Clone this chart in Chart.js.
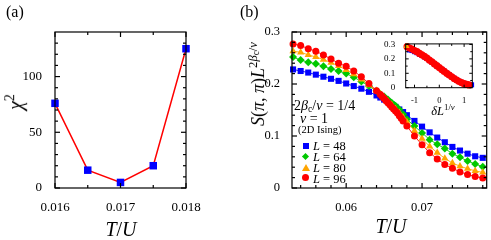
<!DOCTYPE html>
<html><head><meta charset="utf-8">
<script src="https://cdn.jsdelivr.net/npm/chart.js@4.4.0/dist/chart.umd.min.js"></script>
<style>
body{margin:0;width:491px;height:240px;background:#fff;position:relative;overflow:hidden;font-family:"Liberation Serif",serif;color:#000;}
canvas{position:absolute;}
.t{position:absolute;white-space:nowrap;line-height:1;}
.c{transform:translate(-50%,-50%);}
.r{transform:translate(-50%,-50%) rotate(-90deg);}
i{font-style:italic;}
.sup{font-size:0.7em;vertical-align:0.55em;}
.sub{font-size:0.7em;vertical-align:-0.25em;}
.mk{position:absolute;}
</style></head><body>
<canvas id="ca" width="240" height="240" style="left:0;top:0"></canvas>
<canvas id="cb" width="251" height="240" style="left:240px;top:0"></canvas>
<canvas id="ci" width="100" height="74" style="left:380px;top:36px"></canvas>

<div class="t" style="left:6px;top:4px;font-size:16px">(a)</div>
<div class="t" style="left:240px;top:4px;font-size:16px">(b)</div>
<div class="t r" style="left:14px;top:102px;font-size:20px"><i>χ</i><span class="sup">2</span></div>
<div class="t c" style="left:121px;top:229px;font-size:20px"><i>T</i>/<i>U</i></div>
<div class="t c" style="left:391px;top:226px;font-size:20px"><i>T</i>/<i>U</i></div>
<div class="t r" style="left:257px;top:84px;font-size:18px"><i>S</i>(<i>π</i>, <i>π</i>)<i>L</i><span class="sup">2<i>β</i><span style="font-size:0.75em;vertical-align:-0.2em">c</span>/<i>ν</i></span></div>
<div class="t c" style="left:443px;top:110px;font-size:12.5px"><i>δL</i><span class="sup">1/<i>ν</i></span></div>

<div class="t" style="left:294px;top:99px;font-size:14px">2<i>β</i><span class="sub">c</span>/<i>ν</i> = 1/4</div>
<div class="t" style="left:300px;top:112px;font-size:14px"><i>ν</i> = 1</div>
<div class="t" style="left:298px;top:125px;font-size:10.5px">(2D Ising)</div>

<div class="mk" style="left:303px;top:143px;width:6px;height:6px;background:#0000ff"></div>
<div class="mk" style="left:303px;top:154px;width:5px;height:5px;background:#00c800;transform:rotate(45deg)"></div>
<div class="mk" style="left:302px;top:164px;width:0;height:0;border-left:4px solid transparent;border-right:4px solid transparent;border-bottom:7px solid #ffa500"></div>
<div class="mk" style="left:302px;top:174px;width:7px;height:7px;border-radius:50%;background:#ff0000"></div>
<div class="t" style="left:313px;top:140px;font-size:12.5px"><i>L</i> = 48</div>
<div class="t" style="left:313px;top:151px;font-size:12.5px"><i>L</i> = 64</div>
<div class="t" style="left:313px;top:162px;font-size:12.5px"><i>L</i> = 80</div>
<div class="t" style="left:313px;top:173px;font-size:12.5px"><i>L</i> = 96</div>

<script>
// ---------- Panel (a) data ----------
const tA = [0.016, 0.0165, 0.017, 0.0175, 0.018];
const chi2 = [76, 16, 5, 20, 125];
const xMajorA = [0.016, 0.017, 0.018];
const xMinorA = [0.0165, 0.0175];
const yMajorA = [0, 50, 100];
const yMinorA = [10, 20, 30, 40, 60, 70, 80, 90, 110, 120, 130];

// ---------- Panel (b) data ----------
const tB = [0.053,0.054,0.055,0.056,0.057,0.058,0.059,0.060,0.061,0.062,0.063,0.064,0.065,
            0.066,0.067,0.068,0.069,0.070,0.071,0.072,0.073,0.074,0.075,0.076,0.077,0.078];
const sL48 = [0.228,0.225,0.222,0.218,0.214,0.210,0.206,0.201,0.196,0.191,0.185,0.178,0.170,
              0.161,0.151,0.140,0.129,0.118,0.107,0.097,0.088,0.079,0.072,0.066,0.061,0.058];
const sL64 = [0.252,0.246,0.242,0.239,0.234,0.229,0.225,0.220,0.213,0.205,0.196,0.187,0.176,
              0.164,0.151,0.132,0.119,0.106,0.093,0.084,0.076,0.066,0.059,0.052,0.046,0.041];
const sL80 = [0.263,0.261,0.256,0.252,0.247,0.241,0.235,0.227,0.219,0.209,0.198,0.187,0.174,
              0.160,0.145,0.127,0.110,0.095,0.080,0.068,0.057,0.048,0.042,0.037,0.033,0.030];
const sL96 = [0.277,0.274,0.268,0.263,0.256,0.248,0.240,0.234,0.225,0.214,0.201,0.187,0.172,
              0.156,0.139,0.119,0.100,0.083,0.068,0.056,0.045,0.038,0.031,0.026,0.022,0.019];
// extra samples near the crossing
const tExtra = [0.0645, 0.0655, 0.0665, 0.0675];
const sL48x = [0.174, 0.166, 0.156, 0.146];
const sL64x = [0.181, 0.170, 0.158, 0.142];
const sL80x = [0.181, 0.167, 0.152, 0.136];
const sL96x = [0.180, 0.164, 0.148, 0.129];
const tExtraRed = [0.06475, 0.06525, 0.06575, 0.06625, 0.06675, 0.06725];
const sL96xx = [0.176, 0.168, 0.160, 0.152, 0.144, 0.134];

const xMajorB = [0.06, 0.07];
const xMinorB = [0.054,0.056,0.058,0.062,0.064,0.066,0.068,0.072,0.074,0.076,0.078];
const yMajorB = [0, 0.1, 0.2, 0.3];
const yMinorB = [0.02,0.04,0.06,0.08,0.12,0.14,0.16,0.18,0.22,0.24,0.26,0.28];

// ---------- Inset data ----------
const dInset = [-1.3,-1.2,-1.1,-1.0,-0.9,-0.8,-0.7,-0.6,-0.5,-0.4,-0.3,-0.2,-0.1,0,
                0.1,0.2,0.3,0.4,0.5,0.6,0.7,0.8,0.9,1.0,1.1,1.2,1.3];
const inBlue = [null,0.262,0.258,0.250,0.243,0.233,0.224,0.214,0.203,0.190,0.178,0.165,0.152,0.140,
                0.127,0.114,0.101,0.089,0.077,0.065,0.054,0.044,0.036,0.030,0.025,0.022,0.020];
const inRed  = [0.285,0.275,0.268,0.258,0.250,0.238,0.228,0.218,0.206,0.192,0.180,0.166,0.153,0.140,
                0.126,0.113,0.100,0.088,0.076,0.064,0.053,0.043,0.035,0.028,0.023,0.019,null];
const xMajorI = [-1, 0, 1];
const xMinorI = [-0.5, 0.5];
const yMajorI = [0, 0.1, 0.2, 0.3];
const yMinorI = [0.05, 0.15, 0.25];

function pts(xs, ys){ const o=[]; xs.forEach((x,i)=>{ if(ys[i]!==null) o.push({x:x,y:ys[i]}); }); return o; }
function merged(lists){ let o=[]; lists.forEach(l=>{ o=o.concat(pts(l[0],l[1])); }); return o.sort((a,b)=>a.x-b.x); }

function framePlugin(cfg){
  return {
    id:'frame',
    beforeDatasetsDraw(chart){
      if(!cfg.fill) return;
      const a=chart.chartArea, ctx=chart.ctx;
      ctx.save(); ctx.fillStyle='#fff'; ctx.fillRect(a.left,a.top,a.right-a.left,a.bottom-a.top); ctx.restore();
    },
    afterDraw(chart){
      const ctx=chart.ctx, a=chart.chartArea, xs=chart.scales.x, ys=chart.scales.y;
      ctx.save();
      ctx.strokeStyle='#000'; ctx.lineWidth=cfg.lw;
      const seg=(x1,y1,x2,y2)=>{ctx.beginPath();ctx.moveTo(x1,y1);ctx.lineTo(x2,y2);ctx.stroke();};
      const xt=(vals,L)=>vals.forEach(v=>{const p=xs.getPixelForValue(v); seg(p,a.bottom,p,a.bottom-L); seg(p,a.top,p,a.top+L);});
      const yt=(vals,L)=>vals.forEach(v=>{const p=ys.getPixelForValue(v); seg(a.left,p,a.left+L,p); seg(a.right,p,a.right-L,p);});
      xt(cfg.xMaj,cfg.maj); xt(cfg.xMin,cfg.min); yt(cfg.yMaj,cfg.maj); yt(cfg.yMin,cfg.min);
      ctx.strokeRect(a.left,a.top,a.right-a.left,a.bottom-a.top);
      ctx.restore();
    }
  };
}

const FONT='Liberation Serif';
function scaleX(min,max,majors,fmt,size,pad,h){
  return {type:'linear',min:min,max:max,grid:{display:false},border:{display:false},
    afterBuildTicks:s=>{s.ticks=majors.map(v=>({value:v}));},
    afterFit:s=>{s.height=h;},
    ticks:{color:'#000',font:{family:FONT,size:size},padding:pad,minRotation:0,maxRotation:0,autoSkip:false,callback:fmt}};
}
function scaleY(min,max,majors,fmt,size,pad,w){
  return {type:'linear',min:min,max:max,grid:{display:false},border:{display:false},
    afterBuildTicks:s=>{s.ticks=majors.map(v=>({value:v}));},
    afterFit:s=>{s.width=w;},
    ticks:{color:'#000',font:{family:FONT,size:size},padding:pad,autoSkip:false,callback:fmt}};
}
const common={responsive:false,animation:false,devicePixelRatio:1,
  plugins:{legend:{display:false},tooltip:{enabled:false}}};

// Panel (a)
new Chart(document.getElementById('ca'),{
  type:'line',
  data:{datasets:[{data:pts(tA,chi2),borderColor:'#ff0000',borderWidth:1.5,
    pointStyle:'rect',pointRadius:5.3,pointBackgroundColor:'#0000ff',pointBorderWidth:0,clip:false,tension:0}]},
  options:Object.assign({},common,{
    layout:{padding:{left:0,top:32,right:54,bottom:0}},
    scales:{
      x:scaleX(0.016,0.018,xMajorA,v=>v.toFixed(3),13,4,52),
      y:scaleY(0,140,yMajorA,v=>String(v),13,5,55)
    }}),
  plugins:[framePlugin({lw:1.2,maj:5,min:3,xMaj:xMajorA,xMin:xMinorA,yMaj:yMajorA,yMin:yMinorA})]
});

// Panel (b)
function ds(data,color,style,r,order){
  return {data:data,borderColor:color,borderWidth:0.9,pointStyle:style,pointRadius:r,
    pointBackgroundColor:color,pointBorderWidth:0,clip:false,tension:0,order:order};
}
new Chart(document.getElementById('cb'),{
  type:'line',
  data:{datasets:[
    ds(merged([[tB,sL48],[tExtra,sL48x]]),'#0000ff','rect',4.3,4),
    ds(merged([[tB,sL64],[tExtra,sL64x]]),'#00c800','rectRot',4,3),
    ds(merged([[tB,sL80],[tExtra,sL80x]]),'#ffa500','triangle',4.2,2),
    ds(merged([[tB,sL96],[tExtra,sL96x],[tExtraRed,sL96xx]]),'#ff0000','circle',3.5,1)
  ]},
  options:Object.assign({},common,{
    layout:{padding:{left:0,top:32,right:2,bottom:0}},
    scales:{
      x:scaleX(0.05286,0.07852,xMajorB,v=>v.toFixed(2),12.5,4.5,52),
      y:scaleY(0,0.3,yMajorB,v=>v===0?'0':v.toFixed(1),12.5,4,52)
    }}),
  plugins:[framePlugin({lw:1.2,maj:5,min:3,xMaj:xMajorB,xMin:xMinorB,yMaj:yMajorB,yMin:yMinorB})]
});

// Inset
new Chart(document.getElementById('ci'),{
  type:'line',
  data:{datasets:[
    {data:pts(dInset,inBlue),showLine:false,pointStyle:'rect',pointRadius:3.6,pointBackgroundColor:'#0000ff',pointBorderWidth:0,clip:false,order:2},
    {data:pts(dInset,inRed),showLine:false,pointStyle:'circle',pointRadius:3.6,pointBackgroundColor:'#ff0000',pointBorderWidth:0,clip:false,order:1},
    {data:[{x:-1.32,y:0.287}],showLine:false,pointStyle:'triangle',pointRadius:3.5,pointBackgroundColor:'#ffa500',pointBorderWidth:0,clip:false,order:0}
  ]},
  options:Object.assign({},common,{
    layout:{padding:{left:0,top:6.7,right:7.7,bottom:0}},
    scales:{
      x:scaleX(-1.355,1.33,xMajorI,v=>(v<0?'-':'')+Math.abs(v),8.5,0,22.3),
      y:scaleY(0,0.304,yMajorI,v=>v===0?'0':v.toFixed(1),9,2.5,25.7)
    }}),
  plugins:[framePlugin({fill:true,lw:1,maj:3,min:2,xMaj:xMajorI,xMin:xMinorI,yMaj:yMajorI,yMin:yMinorI})]
});
</script>
</body></html>
